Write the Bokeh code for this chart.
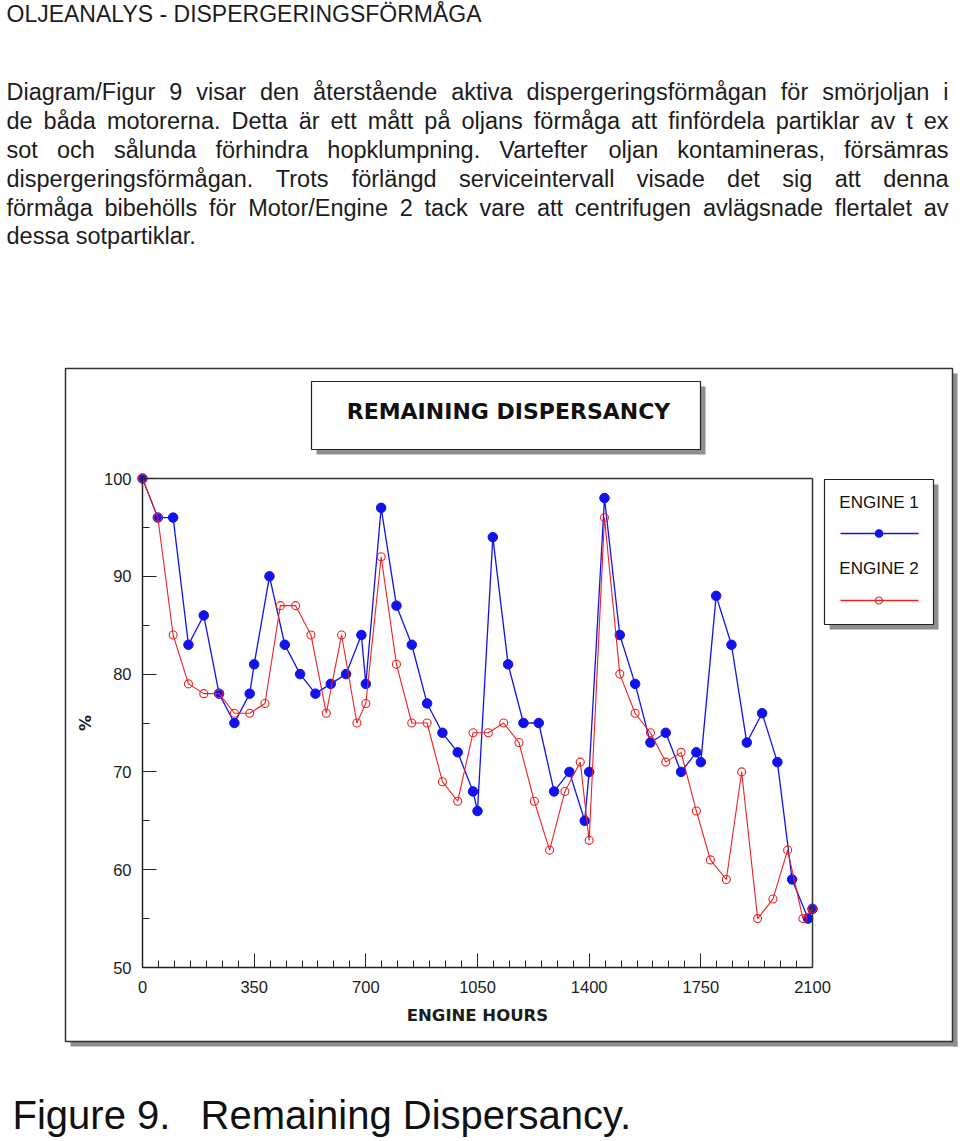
from bokeh.plotting import figure
from bokeh.models import (Label, BoxAnnotation, Range1d, SingleIntervalTicker, FixedTicker,
                          LinearAxis)
from bokeh.embed import file_html
from bokeh.resources import INLINE

# ---------------- data ----------------
hours_engine1 = [0, 48, 96, 144, 192, 240, 288, 336, 350,
                 398, 446, 494, 542, 590, 638, 686, 700,
                 748, 796, 844, 892, 940, 988, 1036, 1050,
                 1098, 1146, 1194, 1242, 1290, 1338, 1386, 1400,
                 1448, 1496, 1544, 1592, 1640, 1688, 1736, 1750,
                 1798, 1846, 1894, 1942, 1990, 2036, 2086, 2100]
disp_engine1 = [100, 96, 96, 83, 86, 78, 75, 78, 81,
                90, 83, 80, 78, 79, 80, 84, 79,
                97, 87, 83, 77, 74, 72, 68, 66,
                94, 81, 75, 75, 68, 70, 65, 70,
                98, 84, 79, 73, 74, 70, 72, 71,
                88, 83, 73, 76, 71, 59, 55, 56]

hours_engine2 = [0, 48, 96, 144, 192, 240, 288, 336,
                 384, 432, 480, 528, 576, 624, 672, 700,
                 748, 796, 844, 892, 940, 988, 1036, 1084,
                 1132, 1180, 1228, 1276, 1324, 1372, 1400,
                 1448, 1496, 1544, 1592, 1640, 1688, 1736,
                 1780, 1830, 1878, 1928, 1976, 2022, 2070, 2100]
disp_engine2 = [100, 96, 84, 79, 78, 78, 76, 76,
                77, 87, 87, 84, 76, 84, 75, 77,
                92, 81, 75, 75, 69, 67, 74, 74,
                75, 73, 67, 62, 68, 71, 63,
                96, 80, 76, 74, 71, 72, 66,
                61, 59, 70, 55, 57, 62, 55, 56]

series_names = ["ENGINE 1", "ENGINE 2"]
x_axis_limits = (0, 2100)
y_axis_limits = (50, 100)
x_tick_step = 350
y_tick_step = 10

page_title = "OLJEANALYS - DISPERGERINGSFÖRMÅGA"
paragraph_lines = [
    ("Diagram/Figur 9 visar den återstående aktiva dispergeringsförmågan för smörjoljan i", True),
    ("de båda motorerna. Detta är ett mått på oljans förmåga att finfördela partiklar av t ex", True),
    ("sot och sålunda förhindra hopklumpning. Vartefter oljan kontamineras, försämras", True),
    ("dispergeringsförmågan. Trots förlängd serviceintervall visade det sig att denna", True),
    ("förmåga bibehölls för Motor/Engine 2 tack vare att centrifugen avlägsnade flertalet av", True),
    ("dessa sotpartiklar.", False),
]
chart_title = "REMAINING DISPERSANCY"
x_title = "ENGINE HOURS"
y_title = "%"
caption_left = "Figure 9."
caption_right = "Remaining Dispersancy."

# ---------------- geometry (page pixels) ----------------
W, H = 960, 1141
PX0, PX1, PY0, PY1 = 142, 812, 478, 967          # plot area: left, right, top, bottom
LEG_X0, LEG_Y0, LEG_X1, LEG_Y1 = 824, 479, 933, 624  # legend box
LEG_ROWS = [533, 600]                              # legend sample rows
LEG_TEXT_ROWS = [502, 568]                         # legend text rows (middle)

BLUE = "#1212ee"
RED = "#ee2222"
TXT = "#1c1c1c"

# the frame covers the whole canvas; the data box is placed by the ranges
xs_per_px = (x_axis_limits[1] - x_axis_limits[0]) / (PX1 - PX0)
ys_per_px = (y_axis_limits[1] - y_axis_limits[0]) / (PY1 - PY0)
x_range = Range1d(x_axis_limits[0] - PX0 * xs_per_px, x_axis_limits[1] + (W - PX1) * xs_per_px)
y_range = Range1d(y_axis_limits[0] - (H - PY1) * ys_per_px, y_axis_limits[1] + PY0 * ys_per_px)


def sx(X):
    return X


def sy(Y):
    return H - Y


p = figure(width=W, height=H, x_range=x_range, y_range=y_range,
           output_backend="svg", toolbar_location=None,
           min_border=0, background_fill_color="white", border_fill_color="white",
           outline_line_color=None)
p.grid.visible = False
p.extra_x_ranges = {"page_x": Range1d(0, W)}
p.extra_y_ranges = {"page_y": Range1d(H, 0)}

xa = p.xaxis[0]
ya = p.yaxis[0]
xa.fixed_location = y_axis_limits[0]
ya.fixed_location = x_axis_limits[0]
xa.bounds = x_axis_limits
ya.bounds = y_axis_limits

for ax in (xa, ya):
    ax.axis_line_color = "#222222"
    ax.axis_line_width = 1.5
    ax.major_tick_line_color = "#222222"
    ax.minor_tick_line_color = "#222222"
    ax.major_tick_in = 14
    ax.major_tick_out = 0
    ax.minor_tick_in = 7
    ax.minor_tick_out = 0
    ax.major_label_text_font = "Liberation Sans"
    ax.major_label_text_font_size = "16.5px"
    ax.major_label_text_color = TXT
    ax.axis_label_text_font = "DejaVu Sans"
    ax.axis_label_text_font_style = "bold"
    ax.axis_label_text_color = TXT

xa.ticker = SingleIntervalTicker(interval=x_tick_step, num_minor_ticks=7)
ya.ticker = SingleIntervalTicker(interval=y_tick_step, num_minor_ticks=2)
xa.major_label_standoff = 13
ya.major_label_standoff = 11
xa.axis_label = x_title
xa.axis_label_text_font_size = "16.5px"
xa.axis_label_standoff = 10
ya.axis_label = y_title
ya.axis_label_text_font_size = "16px"
ya.axis_label_standoff = 6

# top and right borders of the plot box
for loc, side, bnds in ((y_axis_limits[1], "above", x_axis_limits), (x_axis_limits[1], "right", y_axis_limits)):
    p.add_layout(LinearAxis(fixed_location=loc, bounds=bnds, ticker=FixedTicker(ticks=[]),
                            major_tick_line_color=None, minor_tick_line_color=None,
                            axis_line_color="#333333", axis_line_width=1.5), side)

# ---------------- data marks ----------------
p.line(hours_engine1, disp_engine1, line_color=BLUE, line_width=1.3)
p.scatter(hours_engine1, disp_engine1, size=9.5, fill_color=BLUE, line_color=BLUE)
p.line(hours_engine2, disp_engine2, line_color=RED, line_width=1.1)
p.scatter(hours_engine2, disp_engine2, size=8, fill_color=None, line_color=RED, line_width=1.1)


# ---------------- decorations ----------------
def sbox(x0, y0, x1, y1, **kw):
    return BoxAnnotation(left=sx(x0), right=sx(x1), top=sy(y0), bottom=sy(y1),
                         left_units="screen", right_units="screen",
                         top_units="screen", bottom_units="screen", **kw)


SH = "#8e8e8e"
p.add_layout(sbox(952, 373, 957, 1046, fill_color=SH, fill_alpha=1, line_alpha=0))
p.add_layout(sbox(70, 1041, 957, 1046, fill_color=SH, fill_alpha=1, line_alpha=0))
p.add_layout(sbox(65, 368, 952, 1041, fill_alpha=0, line_color="#333333", line_width=1.5, line_alpha=1))
p.add_layout(sbox(316, 386, 705, 454, fill_color=SH, fill_alpha=1, line_alpha=0))
p.add_layout(sbox(311, 381, 700, 449, fill_color="white", fill_alpha=1, line_color="#222222",
                  line_width=1.2, line_alpha=1))
p.add_layout(sbox(LEG_X0 + 5, LEG_Y0 + 5, LEG_X1 + 5, LEG_Y1 + 5, fill_color=SH, fill_alpha=1, line_alpha=0))
p.add_layout(sbox(LEG_X0, LEG_Y0, LEG_X1, LEG_Y1, fill_color="white", fill_alpha=1, line_color="#222222",
                  line_width=1.2, line_alpha=1))


def lab(text, X, Ymid, size, font="Liberation Sans", align="left", style="normal", color=TXT):
    p.add_layout(Label(x=sx(X), y=sy(Ymid), x_units="screen", y_units="screen", text=text,
                       text_font=font, text_font_size=size, text_align=align,
                       text_baseline="middle", text_font_style=style, text_color=color))


lab(chart_title, 508, 411, "22px", font="DejaVu Sans", align="center", style="bold", color="#111111")

# legend: names above line+marker samples (drawn above the legend box)
leg_cx = (LEG_X0 + LEG_X1) / 2
for name, trow, row, color, fill, msize in zip(series_names, LEG_TEXT_ROWS, LEG_ROWS,
                                                [BLUE, RED], [BLUE, None], [7.5, 7]):
    lab(name, leg_cx, trow, "17px", align="center", color="#111111")
    p.line([LEG_X0 + 16, LEG_X1 - 15], [row, row], line_color=color, line_width=1.3,
           x_range_name="page_x", y_range_name="page_y", level="overlay")
    p.scatter([leg_cx], [row], size=msize, fill_color=fill, line_color=color, line_width=1.1,
              x_range_name="page_x", y_range_name="page_y", level="overlay")

# ---------------- page text ----------------
AW = {c: 556 for c in "abdeghnopquåäö29"}
AW.update({"c": 500, "f": 278, "i": 222, "j": 222, "k": 500, "l": 222, "m": 833, "r": 333,
           "s": 500, "t": 278, "v": 500, "w": 722, "x": 500, "y": 500, "z": 500,
           " ": 278, "/": 278, ".": 278, ",": 278, "D": 722, "F": 611, "M": 833,
           "E": 667, "V": 667, "T": 611})
PARA_PX = 23.5


def tw(s):
    return sum(AW.get(c, 556) for c in s) / 1000.0 * PARA_PX


lab(page_title, 6, 13, "23px")
LEFT, RIGHT = 6, 948
mids = [91, 120, 149, 178, 207, 235]
for (line, justify), mid in zip(paragraph_lines, mids):
    words = line.split(" ")
    if justify:
        gap = (RIGHT - LEFT - sum(tw(w) for w in words)) / (len(words) - 1)
    else:
        gap = tw(" ")
    x = LEFT
    for w in words:
        lab(w, x, mid, "%.1fpx" % PARA_PX)
        x += tw(w) + gap

lab(caption_left, 12, 1114, "40px", color="#111111")
lab(caption_right, 200, 1114, "40px", color="#111111")

open("out.html", "w").write(file_html(p, INLINE))
